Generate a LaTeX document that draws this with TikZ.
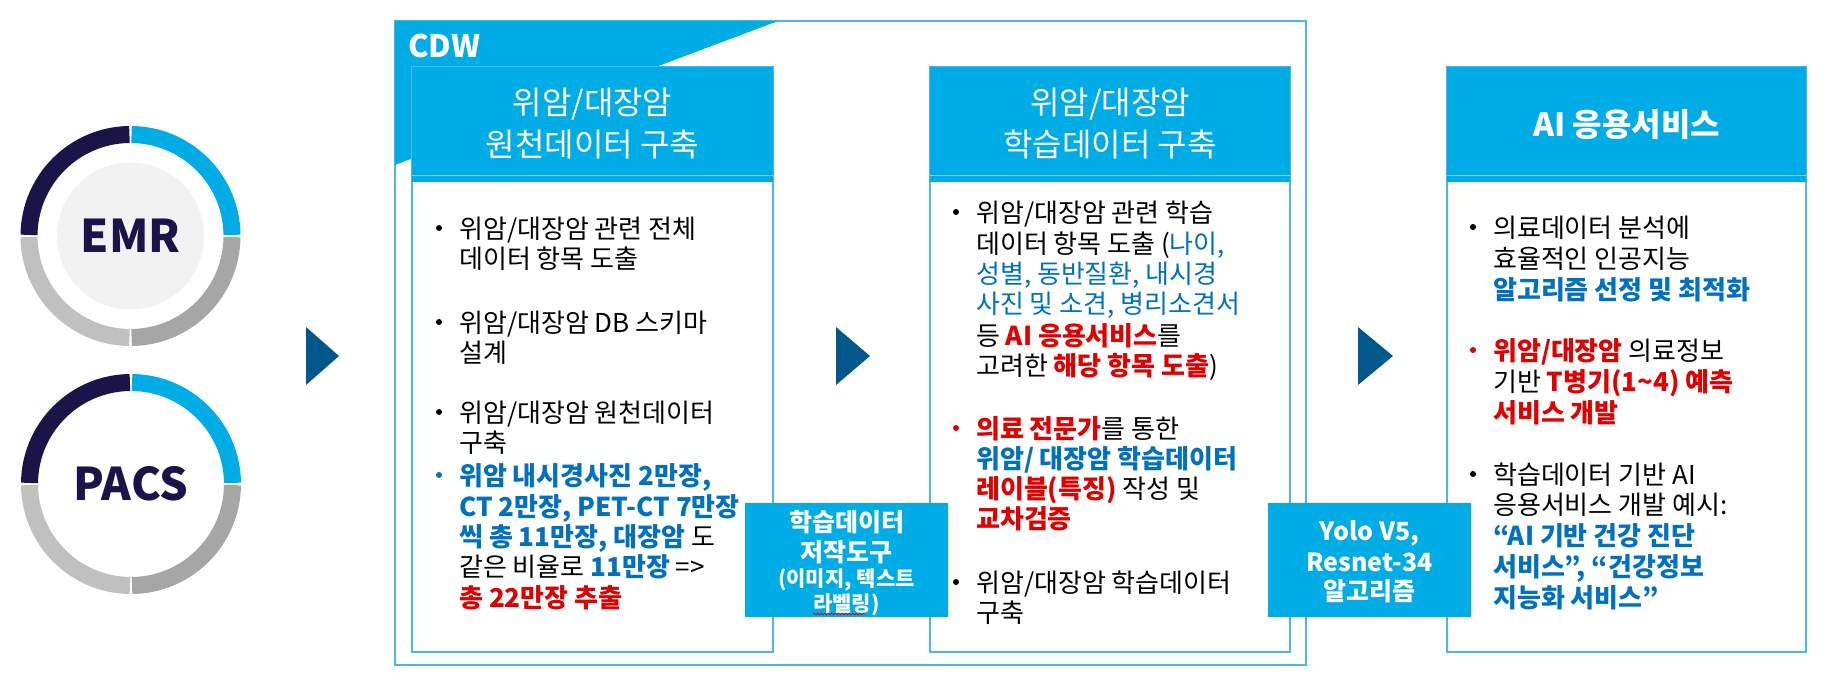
\documentclass[tikz,border=0pt]{standalone}
\usepackage{fontspec}
\usetikzlibrary{decorations.pathmorphing}
\setmainfont{Noto Sans CJK KR}
\newcommand\fsz[1]{\fontsize{#1bp}{#1bp}\selectfont}
\definecolor{cyanh}{HTML}{00ACE6}
\definecolor{frameb}{HTML}{4DB6E6}
\definecolor{arrowb}{HTML}{02588A}
\definecolor{navy}{HTML}{1B1448}
\definecolor{txtblue}{HTML}{0070C0}
\definecolor{txtred}{HTML}{E00000}
\definecolor{gdark}{HTML}{A6A6A6}
\definecolor{glight}{HTML}{C0C0C0}
\definecolor{disk}{HTML}{F2F2F2}
\newcommand\bb[1]{{\bfseries\color{txtblue}#1}}
\newcommand\rr[1]{{\bfseries\color{txtred}#1}}
\newcommand\lb[1]{{\color{txtblue}#1}}
\newcommand\txtline[4]{\node[txt] (#1) at (#2,#3) {#4};}
\newcommand\bulnode[4]{\node[bul,fill=#4] (#1) at (#2,#3) {};}
\begin{document}
\begin{tikzpicture}[x=1bp,y=-1bp,
  colbox/.style={draw=frameb,line width=1.2bp,fill=white},
  headbox/.style={fill=cyanh},
  headtxt/.style={anchor=base,inner sep=0,text=white,font=\fsz{32}},
  txt/.style={anchor=base west,inner sep=0,font=\fsz{26}},
  bul/.style={circle,inner sep=0,minimum size=6bp},
  tri/.style={fill=arrowb},
  smallbox/.style={fill=cyanh,inner sep=0,minimum width=203bp,minimum height=114bp},
  smalltxt/.style={anchor=base,inner sep=0,text=white,font=\fsz{25}\bfseries},
  ring/.style={line width=17bp}
]
\useasboundingbox (0,0) rectangle (1827,690);
\fill[white] (0,0) rectangle (1827,690);

% ---------- left circles ----------
\node[circle,fill=disk,minimum size=147bp,inner sep=0,text=navy,font=\fsz{45}\bfseries] (emr) at (130.5,236) {EMR};
\node[circle,minimum size=147bp,inner sep=0,text=navy,font=\fsz{45}\bfseries] (pacs) at (131,484) {PACS};
\foreach \c in {emr,pacs}{
  \draw[ring,navy]  ([shift={(180.6:101.5)}]\c.center) arc[start angle=180.6,end angle=269.4,radius=101.5];
  \draw[ring,cyanh] ([shift={(270.6:101.5)}]\c.center) arc[start angle=270.6,end angle=359.4,radius=101.5];
  \draw[ring,gdark] ([shift={(0.6:101.5)}]\c.center) arc[start angle=0.6,end angle=89.4,radius=101.5];
  \draw[ring,glight]([shift={(90.6:101.5)}]\c.center) arc[start angle=90.6,end angle=179.4,radius=101.5];
}

% ---------- CDW frame ----------
\draw[frameb,line width=1.2bp] (395,21) rectangle (1306,665);
\fill[cyanh] (395,21) -- (778,21) -- (395,165) -- cycle;
\node[anchor=base west,inner sep=0,text=white,font=\fsz{31}\bfseries] (cdw) at (408,58) {CDW};

% ---------- columns ----------
\draw[colbox] (412,67) rectangle (773,652);
\fill[headbox] (412,67) rectangle (773,182);
\draw[cyanh!55!white,line width=1bp] (412,175) -- (773,175);

\draw[colbox] (930,67) rectangle (1290,652);
\fill[headbox] (930,67) rectangle (1290,182);
\draw[cyanh!55!white,line width=1bp] (930,175) -- (1290,175);

\draw[colbox] (1447,67) rectangle (1806,652);
\fill[headbox] (1447,67) rectangle (1806,182);
\draw[cyanh!55!white,line width=1bp] (1447,175) -- (1806,175);

% headers
\node[headtxt] (h1a) at (592.5,115) {위암/대장암};
\node[headtxt] (h1b) at (592.5,157) {원천데이터 구축};
\node[headtxt] (h2a) at (1110,115) {위암/대장암};
\node[headtxt] (h2b) at (1110,157) {학습데이터 구축};
\node[headtxt,font=\fsz{32}\bfseries] (h3a) at (1626.5,137) {AI 응용서비스};

% ---------- arrows ----------
\fill[tri] (306,327) -- (339,356) -- (306,385) -- cycle;
\fill[tri] (836,327) -- (870,356) -- (836,385) -- cycle;
\fill[tri] (1358,327) -- (1393,356) -- (1358,385) -- cycle;

% ---------- column 1 text ----------
\bulnode{p1a}{439}{228}{black}
\txtline{c1a1}{459}{238}{위암/대장암 관련 전체}
\txtline{c1a2}{459}{268}{데이터 항목 도출}
\bulnode{p1b}{439}{322}{black}
\txtline{c1b1}{459}{332}{위암/대장암 DB 스키마}
\txtline{c1b2}{459}{362}{설계}
\bulnode{p1c}{439}{412}{black}
\txtline{c1c1}{459}{422}{위암/대장암 원천데이터}
\txtline{c1c2}{459}{452}{구축}
\bulnode{p1d}{439}{475}{txtblue}
\txtline{c1d1}{459}{485}{\bb{위암 내시경사진 2만장,}}
\txtline{c1d2}{459}{516}{\bb{CT 2만장, PET-CT 7만장}}
\txtline{c1d3}{459}{546}{\bb{씩 총 11만장, 대장암} 도}
\txtline{c1d4}{459}{576}{같은 비율로 \bb{11만장} =>}
\txtline{c1d5}{459}{607}{\rr{총 22만장 추출}}

% ---------- column 2 text ----------
\bulnode{p2a}{956}{212}{black}
\txtline{c2a1}{976}{222}{위암/대장암 관련 학습}
\txtline{c2a2}{976}{253}{데이터 항목 도출 (\lb{나이,}}
\txtline{c2a3}{976}{283}{\lb{성별, 동반질환, 내시경}}
\txtline{c2a4}{976}{313}{\lb{사진 및 소견, 병리소견서}}
\txtline{c2a5}{976}{345}{등 \rr{AI 응용서비스}를}
\txtline{c2a6}{976}{375}{고려한 \rr{해당 항목 도출})}
\bulnode{p2b}{956}{428}{txtred}
\txtline{c2b1}{976}{438}{\rr{의료 전문가}를 통한}
\txtline{c2b2}{976}{468}{\bb{위암/ 대장암 학습데이터}}
\txtline{c2b3}{976}{498}{\rr{레이블(특징)} 작성 및}
\txtline{c2b4}{976}{528}{\rr{교차검증}}
\bulnode{p2c}{956}{582}{black}
\txtline{c2c1}{976}{592}{위암/대장암 학습데이터}
\txtline{c2c2}{976}{622}{구축}

% ---------- column 3 text ----------
\bulnode{p3a}{1473}{227}{black}
\txtline{c3a1}{1493}{237}{의료데이터 분석에}
\txtline{c3a2}{1493}{268}{효율적인 인공지능}
\txtline{c3a3}{1493}{299}{\bb{알고리즘 선정 및 최적화}}
\bulnode{p3b}{1473}{350}{txtred}
\txtline{c3b1}{1493}{360}{\rr{위암/대장암} 의료정보}
\txtline{c3b2}{1493}{391}{기반 \rr{T병기(1{\char`\~}4) 예측}}
\txtline{c3b3}{1493}{422}{\rr{서비스 개발}}
\bulnode{p3c}{1473}{474}{black}
\txtline{c3c1}{1493}{484}{학습데이터 기반 AI}
\txtline{c3c2}{1493}{514}{응용서비스 개발 예시:}
\txtline{c3c3}{1493}{545}{\bb{“AI 기반 건강 진단}}
\txtline{c3c4}{1493}{576}{\bb{서비스”, “건강정보}}
\txtline{c3c5}{1493}{607}{\bb{지능화 서비스”}}

% ---------- small boxes ----------
\node[smallbox] (tool) at (846.5,560) {};
\node[smalltxt] (tool1) at (846.5,531.5) {학습데이터};
\node[smalltxt] (tool2) at (846.5,561.5) {저작도구};
\node[smalltxt,font=\fsz{21}\bfseries] (tool3) at (846.5,586) {(이미지, 텍스트};
\node[smalltxt,font=\fsz{21}\bfseries] (tool4) at (846.5,611) {라벨링)};
\coordinate (sq1) at (tool4.base west);
\draw[txtred,line width=0.8bp,decorate,decoration={snake,amplitude=0.9bp,segment length=3.5bp}]
  ([yshift=-3bp]sq1) -- ++(52,0);

\node[smallbox] (algo) at (1369.5,560) {};
\node[smalltxt] (algo1) at (1369.5,540) {Yolo V5,};
\node[smalltxt] (algo2) at (1369.5,571) {Resnet-34};
\node[smalltxt] (algo3) at (1369.5,600) {알고리즘};
\end{tikzpicture}
\end{document}
